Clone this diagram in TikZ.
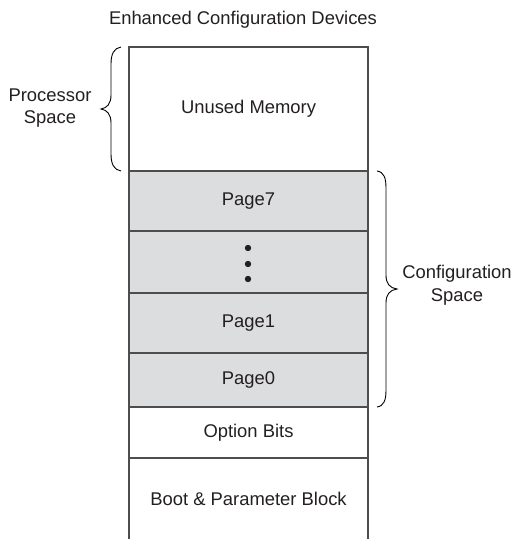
\documentclass[tikz,border=0pt]{standalone}
\usepackage{fontspec}
\setmainfont{Liberation Sans}
\definecolor{pagegray}{HTML}{DCDDDF}
\definecolor{linegray}{HTML}{4D4D4D}
\definecolor{inkc}{HTML}{231F20}
\begin{document}
\begin{tikzpicture}[x=1pt,y=-1pt,
  seg/.style={draw=linegray,line width=1.5pt,minimum width=239pt,inner sep=0pt,outer sep=0pt,anchor=north west,text=inkc,font=\fontsize{18.4}{22}\selectfont},
  lbl/.style={text=inkc,font=\fontsize{18.4}{22.5}\selectfont,align=center,inner sep=0pt},
  bracec/.style={draw=black,line width=0.9pt},
  dotc/.style={fill=inkc,draw=none}]
\useasboundingbox (0,0) rectangle (514,539);
\node[lbl] (title) at (243,20) {Enhanced Configuration Devices};
\node[seg,minimum height=124pt] (unused) at (129,47) {Unused Memory};
\node[seg,fill=pagegray,minimum height=60pt] (p7) at (129,171) {Page7};
\node[seg,fill=pagegray,minimum height=62pt] (pdots) at (129,231) {};
\node[seg,fill=pagegray,minimum height=60pt] (p1) at (129,293) {Page1};
\node[seg,fill=pagegray,minimum height=54pt] (p0) at (129,353) {Page0};
\node[seg,minimum height=51pt] (opt) at (129,407) {Option Bits};
\node[seg,draw=none,minimum height=81pt] (boot) at (129,458) {Boot \& Parameter Block};
\draw[linegray,line width=1.5pt] (boot.north west) -- (boot.south west) (boot.north east) -- (boot.south east);
\fill[dotc] (248,248) circle (3.2);
\fill[dotc] (248,264) circle (3.2);
\fill[dotc] (248,279) circle (3.2);
% processor brace
\coordinate (pb1) at (121,47);
\coordinate (pb2) at (121,171);
\coordinate (ptip) at (101,109);
\draw[bracec] (pb1) .. controls (114,48) and (111,54) .. (111,64) -- (111,95) .. controls (111,104) and (107,108) .. (ptip) .. controls (107,110) and (111,114) .. (111,123) -- (111,154) .. controls (111,164) and (114,170) .. (pb2);
\node[lbl] (proc) at (50,108) {Processor\\Space};
% configuration brace
\coordinate (cb1) at (377,171);
\coordinate (cb2) at (377,407);
\coordinate (ctip) at (397,289);
\draw[bracec] (cb1) .. controls (384,172) and (386,178) .. (386,188) -- (386,275) .. controls (386,284) and (390,288) .. (ctip) .. controls (390,290) and (386,294) .. (386,303) -- (386,390) .. controls (386,400) and (384,406) .. (cb2);
\node[lbl] (conf) at (457,285) {Configuration\\Space};
\end{tikzpicture}
\end{document}
